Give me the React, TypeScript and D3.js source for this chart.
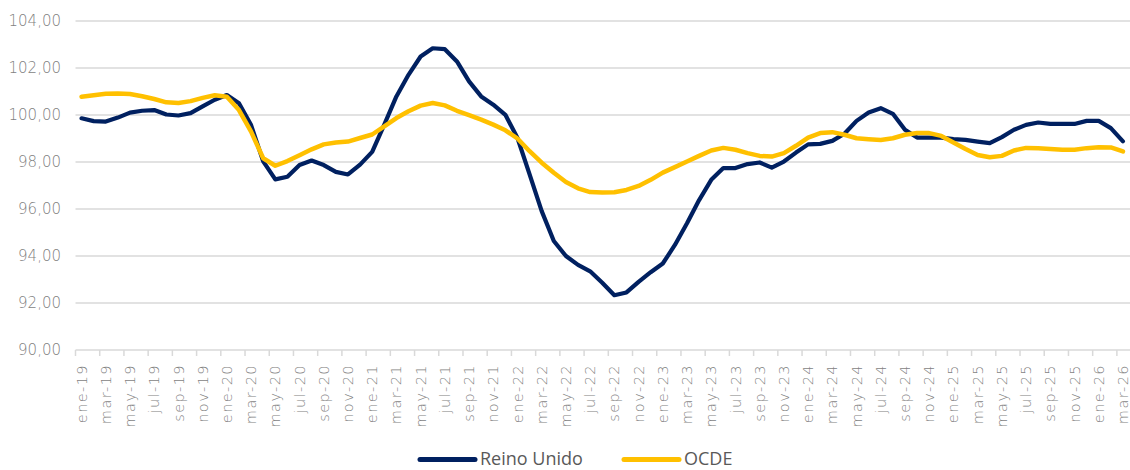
import React from "react";
import * as d3 from "d3";

const MONTHS = ["ene", "feb", "mar", "abr", "may", "jun", "jul", "ago", "sep", "oct", "nov", "dic"];
const categories: string[] = [];
for (let y = 19; y <= 26; y++) {
  for (let m = 0; m < 12; m++) {
    if (y === 26 && m > 2) break;
    categories.push(`${MONTHS[m]}-${y}`);
  }
}

const reinoUnido = [
  99.86, 99.74, 99.72, 99.89, 100.10, 100.18, 100.21, 100.02, 99.98, 100.08, 100.37, 100.65,
  100.85, 100.50, 99.57, 98.03, 97.26, 97.37, 97.87, 98.06, 97.87, 97.58, 97.47, 97.89,
  98.43, 99.59, 100.79, 101.71, 102.49, 102.84, 102.80, 102.28, 101.43, 100.79, 100.44, 100.01,
  99.02, 97.47, 95.91, 94.64, 94.0, 93.62, 93.35, 92.86, 92.33, 92.45, 92.90, 93.31,
  93.68, 94.47, 95.39, 96.38, 97.24, 97.74, 97.74, 97.91, 97.98, 97.76, 98.02, 98.40,
  98.75, 98.77, 98.90, 99.20, 99.75, 100.11, 100.29, 100.05, 99.37, 99.04, 99.04, 99.04,
  98.97, 98.94, 98.87, 98.80, 99.06, 99.37, 99.58, 99.68, 99.62, 99.62, 99.62, 99.75,
  99.75, 99.44, 98.88,
];

const ocde = [
  100.78, 100.84, 100.90, 100.92, 100.89, 100.80, 100.68, 100.54, 100.51, 100.59, 100.73, 100.84,
  100.78, 100.21, 99.29, 98.16, 97.84, 98.04, 98.29, 98.54, 98.75, 98.83, 98.87, 99.02,
  99.17, 99.52, 99.87, 100.16, 100.40, 100.51, 100.41, 100.18, 99.99, 99.80, 99.59, 99.35,
  99.00, 98.46, 97.97, 97.54, 97.15, 96.88, 96.72, 96.70, 96.71, 96.81, 96.98, 97.24,
  97.55, 97.78, 98.02, 98.26, 98.49, 98.60, 98.52, 98.38, 98.26, 98.23, 98.38, 98.69,
  99.04, 99.23, 99.27, 99.16, 99.01, 98.97, 98.94, 99.01, 99.16, 99.23, 99.23, 99.11,
  98.83, 98.55, 98.30, 98.20, 98.26, 98.49, 98.60, 98.59, 98.55, 98.52, 98.52, 98.59,
  98.63, 98.62, 98.45,
];

const yTicks = [90, 92, 94, 96, 98, 100, 102, 104];

const seriesNames = ["Reino Unido", "OCDE"];
const seriesColors = ["#002060", "#FFC000"];

export default function App() {
  const width = 1130;
  const height = 470;
  const left = 75.5;
  const right = 1129;
  const top = 21;
  const bottom = 350;

  const x = d3.scaleBand<string>().domain(categories).range([left, right]).padding(0);
  const bw = x.bandwidth();
  const cx = (i: number) => (x(categories[i]) as number) + bw / 2;
  const y = d3.scaleLinear().domain([90, 104]).range([bottom, top]);

  const line = d3
    .line<number>()
    .x((_, i) => cx(i))
    .y((d) => y(d));

  const labelFont = "'DejaVu Sans', sans-serif";

  return (
    <svg
      width={width}
      height={height}
      style={{ position: "absolute", left: 0, top: 0, background: "#fff" }}
    >
      {yTicks.map((t) => (
        <g key={t}>
          <line
            x1={left}
            x2={1130}
            y1={y(t)}
            y2={y(t)}
            stroke="#d9d9d9"
            strokeWidth={1.5}
          />
          <text
            x={61}
            y={y(t)}
            dy="0.36em"
            textAnchor="end"
            fontFamily={labelFont}
            fontWeight={200}
            fontSize={15}
            fill="#7f7f7f"
          >
            {t.toFixed(2).replace(".", ",")}
          </text>
        </g>
      ))}
      {categories.map((c, i) =>
        i % 2 === 0 ? (
          <g key={c}>
            <line
              x1={x(c) as number}
              x2={x(c) as number}
              y1={bottom}
              y2={bottom + 6}
              stroke="#d9d9d9"
              strokeWidth={1.5}
            />
            <text
              transform={`translate(${cx(i)},${bottom + 14}) rotate(-90)`}
              dy="0.35em"
              textAnchor="end"
              fontFamily={labelFont}
              fontWeight={200}
              fontSize={14.5}
              letterSpacing={1.4}
              fill="#7f7f7f"
            >
              {c}
            </text>
          </g>
        ) : null
      )}
      <path
        d={line(reinoUnido) || ""}
        fill="none"
        stroke={seriesColors[0]}
        strokeWidth={4.2}
        strokeLinejoin="round"
        strokeLinecap="round"
      />
      <path
        d={line(ocde) || ""}
        fill="none"
        stroke={seriesColors[1]}
        strokeWidth={4.5}
        strokeLinejoin="round"
        strokeLinecap="round"
      />
      {seriesNames.map((name, i) => {
        const lx = i === 0 ? 420 : 624;
        return (
          <g key={name}>
            <line
              x1={lx}
              x2={lx + 55}
              y1={459.5}
              y2={459.5}
              stroke={seriesColors[i]}
              strokeWidth={5}
              strokeLinecap="round"
            />
            <text
              x={lx + 60}
              y={465}
              fontFamily="'Open Sans', sans-serif"
              fontSize={18}
              fill="#595959"
            >
              {name}
            </text>
          </g>
        );
      })}
    </svg>
  );
}
